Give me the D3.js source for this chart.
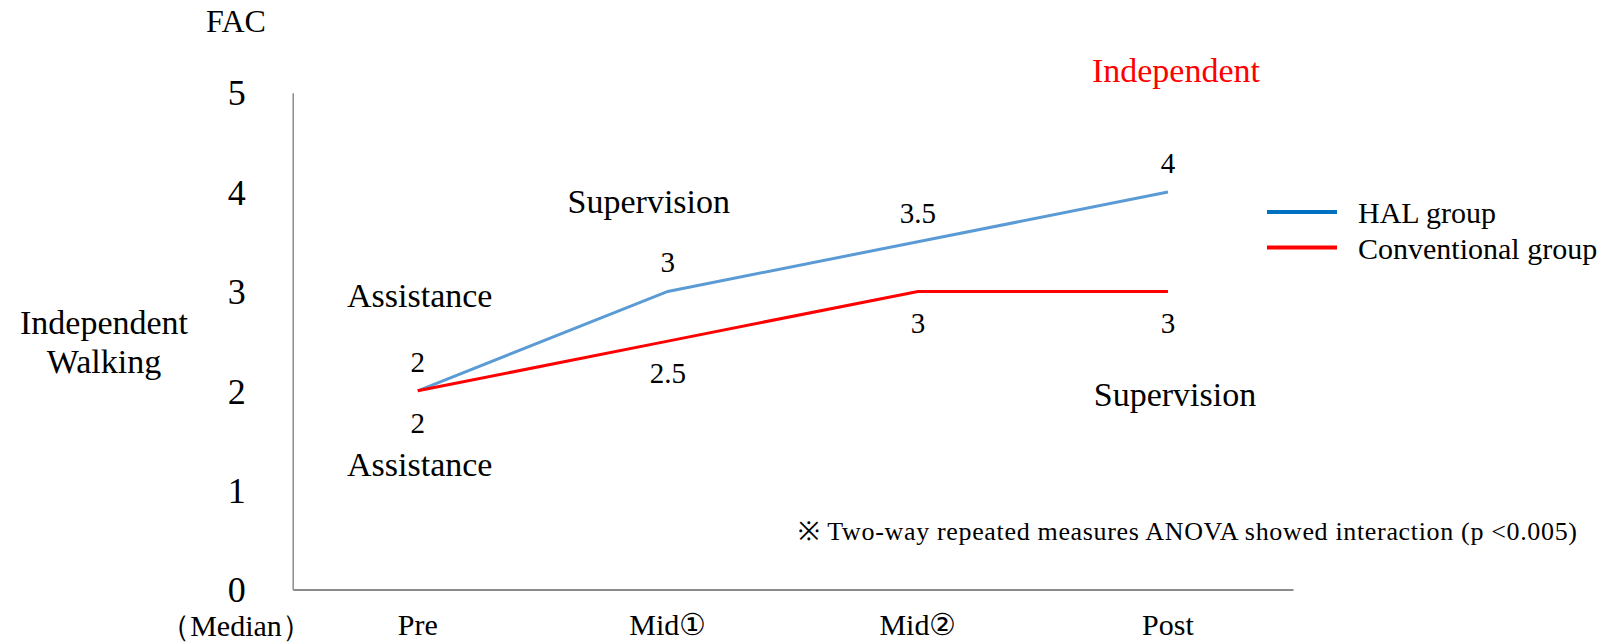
<!DOCTYPE html>
<html lang="en">
<head>
  <meta charset="UTF-8">
  <title>FAC median by group</title>
  <script src="https://d3js.org/d3.v7.min.js"></script>
  <style>
    body {
      margin: 0;
      background: #fff;
    }
    svg {
      display: block;
    }
    .axis path {
      stroke: #8c8c8c;
    }
  </style>
</head>
<body>
<svg width="1616" height="644" font-family="Liberation Serif, Times New Roman, serif"></svg>

<script>
  const phases = ["Pre", "Mid①", "Mid②", "Post"];
  const halValues = [2, 3, 3.5, 4];
  const convValues = [2, 2.5, 3, 3];
  const yTicks = [0, 1, 2, 3, 4, 5];
  const seriesNames = ["HAL group", "Conventional group"];
  const note = "※ Two-way repeated measures ANOVA showed interaction (p <0.005)";

  const svg = d3.select("svg");
  const serif = "Liberation Serif, Times New Roman, serif";

  // plot box
  const plotLeft = 292.7, plotRight = 1293, plotTop = 92.7, plotBottom = 589.5;

  const x = d3.scaleBand().domain(phases).range([plotLeft, plotRight]);
  const y = d3.scaleLinear().domain([0, 5]).range([plotBottom, plotTop]);
  const cx = d => x(d) + x.bandwidth() / 2;

  // y axis
  const yAxis = svg.append("g")
    .attr("class", "axis")
    .attr("transform", `translate(${plotLeft},0)`)
    .call(d3.axisLeft(y).tickValues(yTicks).tickFormat(d3.format("d"))
      .tickSize(0).tickSizeOuter(0).tickPadding(56));
  yAxis.attr("font-family", serif);
  yAxis.select(".domain").attr("stroke-width", 1.5);
  yAxis.selectAll("text")
    .attr("text-anchor", "middle")
    .attr("dy", "0.34em")
    .attr("font-size", 36)
    .attr("fill", "#000");

  // x axis
  const xAxis = svg.append("g")
    .attr("class", "axis")
    .attr("transform", `translate(0,${plotBottom})`)
    .call(d3.axisBottom(x).tickSize(0).tickSizeOuter(0));
  xAxis.attr("font-family", serif);
  xAxis.select(".domain").attr("stroke-width", 2);
  xAxis.selectAll("text")
    .attr("y", 45.5)
    .attr("dy", 0)
    .attr("font-size", 30)
    .attr("fill", "#000");

  // axis titles
  svg.append("text")
    .attr("x", 236).attr("y", 32)
    .attr("text-anchor", "middle")
    .attr("font-size", 32)
    .text("FAC");

  svg.append("text")
    .attr("x", 236).attr("y", 636)
    .attr("text-anchor", "middle")
    .attr("font-size", 30)
    .text("（Median）");

  const yTitle = svg.append("text")
    .attr("text-anchor", "middle")
    .attr("font-size", 34);
  yTitle.append("tspan").attr("x", 104).attr("y", 334).text("Independent");
  yTitle.append("tspan").attr("x", 104).attr("y", 373).text("Walking");

  // lines
  const line = d3.line()
    .x((d, i) => cx(phases[i]))
    .y(d => y(d));

  svg.append("path")
    .datum(halValues)
    .attr("fill", "none")
    .attr("stroke", "#5b9bd5")
    .attr("stroke-width", 3)
    .attr("d", line);

  svg.append("path")
    .datum(convValues)
    .attr("fill", "none")
    .attr("stroke", "#ff0000")
    .attr("stroke-width", 3)
    .attr("d", line);

  // value labels: HAL above, conventional below
  svg.selectAll(".lab-hal")
    .data(halValues)
    .enter()
    .append("text")
    .attr("class", "lab-hal")
    .attr("x", (d, i) => cx(phases[i]))
    .attr("y", d => y(d) - 19)
    .attr("text-anchor", "middle")
    .attr("font-size", 29)
    .text(d => d);

  svg.selectAll(".lab-conv")
    .data(convValues)
    .enter()
    .append("text")
    .attr("class", "lab-conv")
    .attr("x", (d, i) => cx(phases[i]))
    .attr("y", d => y(d) + 42)
    .attr("text-anchor", "middle")
    .attr("font-size", 29)
    .text(d => d);

  // level annotations
  const levelText = (t, px, py, color) => svg.append("text")
    .attr("x", px).attr("y", py)
    .attr("text-anchor", "middle")
    .attr("font-size", 34)
    .attr("fill", color || "#000")
    .text(t);

  levelText("Assistance", cx("Pre") + 2, y(2) - 84);
  levelText("Assistance", cx("Pre") + 2, y(2) + 85);
  levelText("Supervision", cx("Mid①") - 19, y(3) - 78);
  levelText("Supervision", cx("Post") + 7, y(3) + 115);
  levelText("Independent", cx("Post") + 8, y(4) - 110, "#ff0000");

  // legend
  const legend = svg.append("g").attr("transform", "translate(1267,212)");
  const legendColors = ["#0070c0", "#ff0000"];
  seriesNames.forEach((name, i) => {
    const g = legend.append("g").attr("transform", `translate(0,${i * 35.5})`);
    g.append("line")
      .attr("x1", 0).attr("x2", 70)
      .attr("y1", 0).attr("y2", 0)
      .attr("stroke", legendColors[i])
      .attr("stroke-width", 4);
    g.append("text")
      .attr("x", 91).attr("y", 11)
      .attr("font-size", 30)
      .text(name);
  });

  // footnote
  svg.append("text")
    .attr("x", 798).attr("y", 540)
    .attr("font-size", 26)
    .attr("textLength", 779)
    .attr("lengthAdjust", "spacing")
    .text(note);
</script>
</body>
</html>
